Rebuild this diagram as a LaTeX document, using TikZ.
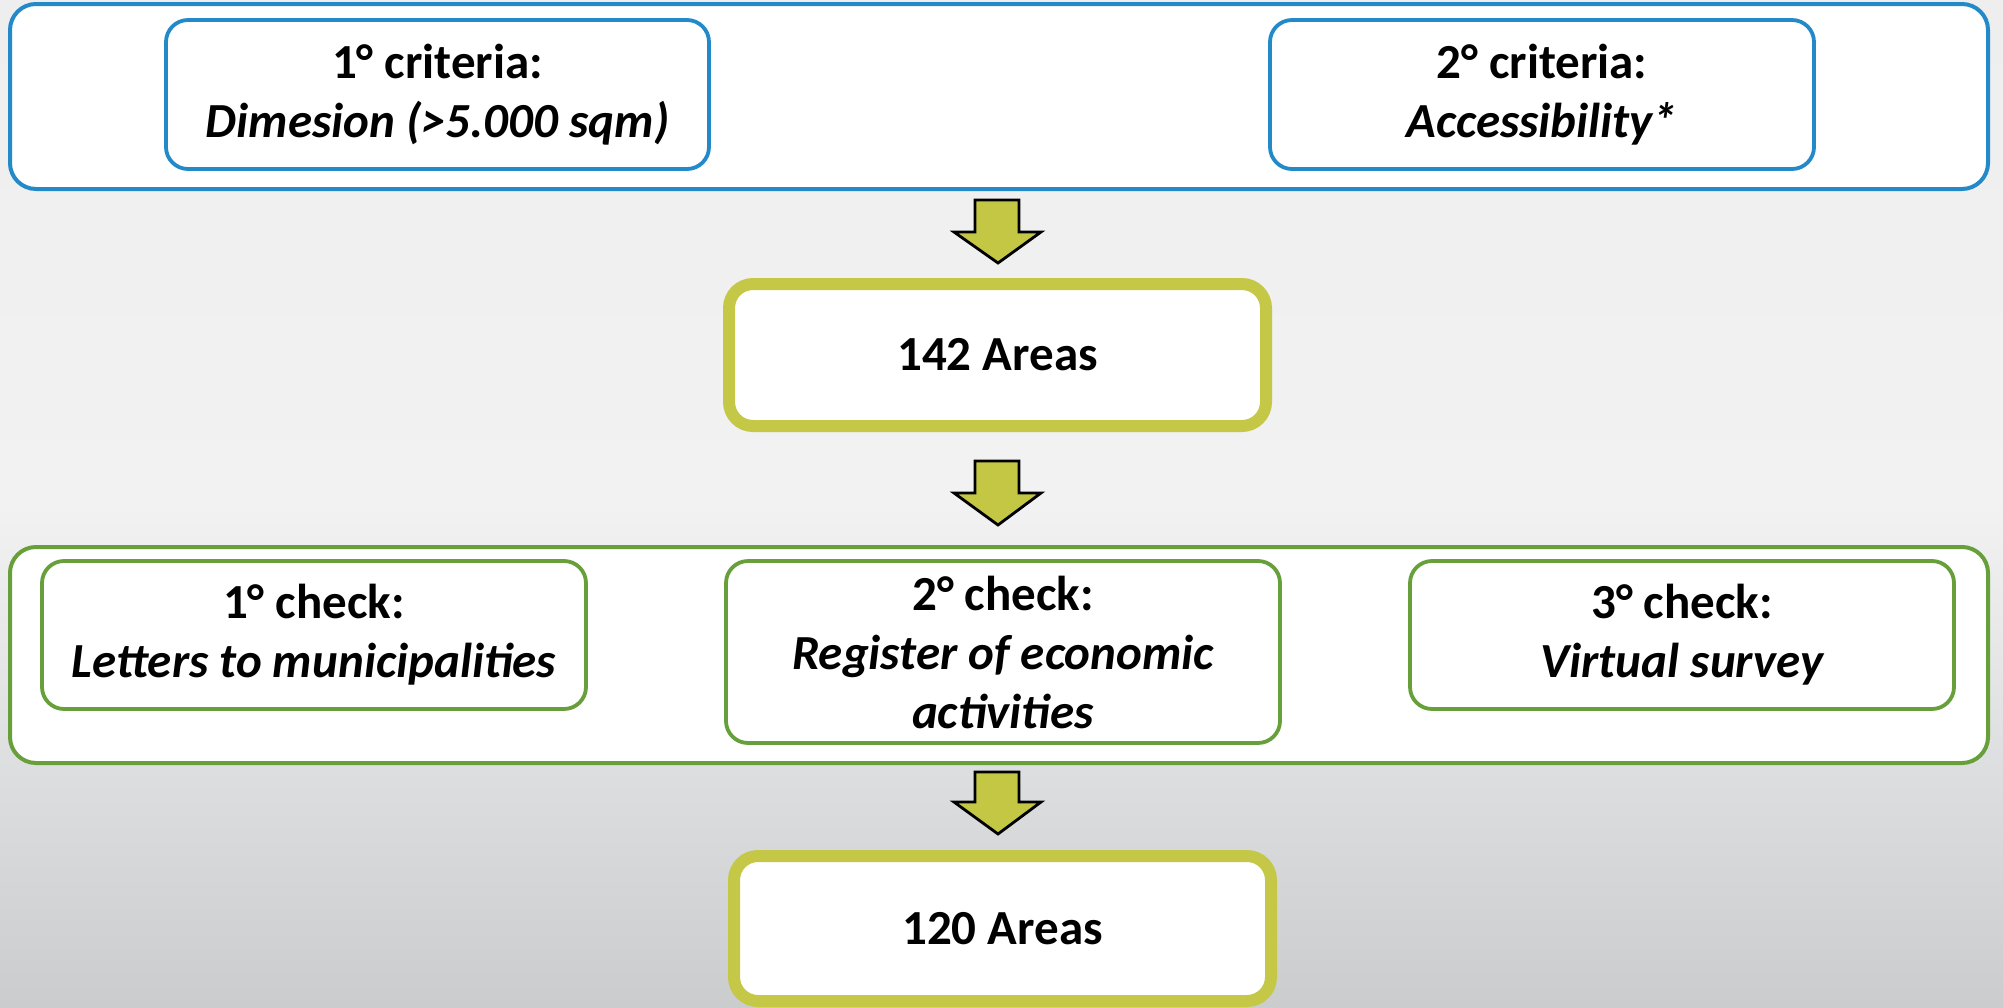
\documentclass[tikz,border=0pt]{standalone}
\usepackage{fontspec}
\setmainfont{Carlito}
\usetikzlibrary{calc}
\definecolor{bluebd}{HTML}{2389C8}
\definecolor{greenbd}{HTML}{67A03A}
\definecolor{olivebd}{HTML}{C4C846}
\definecolor{arrowfill}{HTML}{C3C743}
\definecolor{bgtop}{HTML}{EEEEEE}
\definecolor{bgmid}{HTML}{F2F2F2}
\definecolor{bgbot}{HTML}{CACCCE}
\tikzset{
  txt/.style={font=\fontsize{24.5}{29.5}\selectfont\bfseries, align=center, text=black},
  outerblue/.style={draw=bluebd, line width=2pt, fill=white, rounded corners=13pt, inner sep=0pt},
  innerblue/.style={draw=bluebd, line width=1.9pt, fill=white, rounded corners=11pt, inner sep=0pt, txt},
  outergreen/.style={draw=greenbd, line width=2pt, fill=white, rounded corners=13pt, inner sep=0pt},
  innergreen/.style={draw=greenbd, line width=1.9pt, fill=white, rounded corners=11pt, inner sep=0pt, txt},
  olivebox/.style={draw=olivebd, line width=6pt, fill=white, rounded corners=12pt, inner sep=0pt, txt},
  arrowshape/.style={draw=black, line width=1.4pt, fill=arrowfill, line join=miter}
}
\newcommand\mydownarrow[3]{%
  \draw[arrowshape] (975,#1) -- (1019,#1) -- (1019,#2) -- (1041,#2) -- (998,#3) -- (954,#2) -- (975,#2) -- cycle;}
\begin{document}
\begin{tikzpicture}[x=0.5pt,y=-0.5pt]
\useasboundingbox (0,0) rectangle (2003,1007);
\shade[top color=bgtop, bottom color=bgbot, middle color=bgmid] (0,0) rectangle (2003,1007);

% top group
\node[outerblue, minimum width=989pt, minimum height=92.5pt] (top) at (999,96.5) {};
\node[innerblue, minimum width=271.5pt, minimum height=74.5pt] (c1) at (437.5,94.5)
  {1° criteria:\\\itshape Dimesion (>5.000 sqm)};
\node[innerblue, minimum width=272pt, minimum height=74.5pt] (c2) at (1542,94.5)
  {2° criteria:\\\itshape Accessibility*};

\mydownarrow{200}{232}{263}

\node[olivebox, minimum width=268.5pt, minimum height=71pt] (a142) at (997.5,355) {142 Areas};

\mydownarrow{461}{493}{525}

% bottom group
\node[outergreen, minimum width=989pt, minimum height=108pt] (bot) at (999,655) {};
\node[innergreen, minimum width=272pt, minimum height=74pt] (k1) at (314,635)
  {1° check:\\\itshape Letters to municipalities};
\node[innergreen, minimum width=277pt, minimum height=91pt] (k2) at (1003,652)
  {2° check:\\\itshape Register of economic\\\itshape activities};
\node[innergreen, minimum width=272pt, minimum height=74pt] (k3) at (1682,635)
  {3° check:\\\itshape Virtual survey};

\mydownarrow{772}{802}{834}

\node[olivebox, minimum width=268.5pt, minimum height=72.5pt] (a120) at (1002.5,928.5) {120 Areas};
\end{tikzpicture}
\end{document}
